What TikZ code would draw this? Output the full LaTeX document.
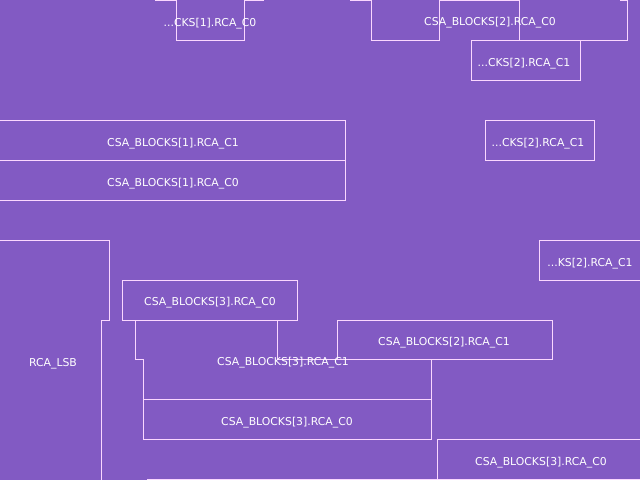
\documentclass[tikz,border=0pt]{standalone}
\usepackage{fontspec}
\setmainfont{DejaVu Sans}
\definecolor{bgpurple}{RGB}{130,90,195}
\definecolor{edge}{RGB}{250,215,255}
\begin{document}
\begin{tikzpicture}[x=1bp,y=-1bp,
  frame/.style={draw=edge,line width=1bp},
  lbl/.style={text=white,font=\fontsize{10.9}{12}\selectfont,inner sep=0pt,yshift=-1.5bp}]
\fill[bgpurple] (0,0) rectangle (640,480);
\useasboundingbox (0,0) rectangle (640,480);
% top row
\draw[frame] (155,1) -- (176,1);
\draw[frame] (176,0) -- (176,41) -- (244,41) -- (244,0);
\draw[frame] (244,1) -- (264,1);
\draw[frame] (350,1) -- (371,1);
\draw[frame] (371,0) -- (371,41) -- (439,41) -- (439,0);
\draw[frame] (439,1) -- (519,1);
\draw[frame] (519,0) -- (519,41) -- (627,41) -- (627,0);
\draw[frame] (620,1) -- (627,1);
\draw[frame] (471,41) rectangle (580,81);
\draw[frame] (485,121) rectangle (594,161);
% block 1
\draw[frame] (0,121) -- (345,121) -- (345,201) -- (0,201);
\draw[frame] (0,161) -- (345,161);
% left
\draw[frame] (0,240) -- (109,240) -- (109,320) -- (101,320) -- (101,480);
% block 3
\draw[frame] (122,280) rectangle (297,320);
\draw[frame] (135,320) -- (135,359) -- (143,359) -- (143,439) -- (431,439) -- (431,359) -- (277,359) -- (277,320);
\draw[frame] (143,399) -- (431,399);
\draw[frame] (337,320) rectangle (552,359);
% right
\draw[frame] (640,240) -- (539,240) -- (539,280) -- (640,280);
\draw[frame] (437,480) -- (437,439) -- (640,439);
\draw[frame] (147,479) -- (640,479);
% labels
\node[lbl] (t1) at (210,22) {...CKS[1].RCA\_C0};
\node[lbl] (t2) at (490,21) {CSA\_BLOCKS[2].RCA\_C0};
\node[lbl] (t3) at (524,62) {...CKS[2].RCA\_C1};
\node[lbl] (t4) at (538,142) {...CKS[2].RCA\_C1};
\node[lbl] (t5) at (173,142) {CSA\_BLOCKS[1].RCA\_C1};
\node[lbl] (t6) at (173,182) {CSA\_BLOCKS[1].RCA\_C0};
\node[lbl] (t7) at (590,262) {...KS[2].RCA\_C1};
\node[lbl] (t8) at (210,301) {CSA\_BLOCKS[3].RCA\_C0};
\node[lbl] (t9) at (53,362) {RCA\_LSB};
\node[lbl] (t10) at (283,361) {CSA\_BLOCKS[3].RCA\_C1};
\node[lbl] (t11) at (444,341) {CSA\_BLOCKS[2].RCA\_C1};
\node[lbl] (t12) at (287,421) {CSA\_BLOCKS[3].RCA\_C0};
\node[lbl] (t13) at (541,461) {CSA\_BLOCKS[3].RCA\_C0};
\end{tikzpicture}
\end{document}
